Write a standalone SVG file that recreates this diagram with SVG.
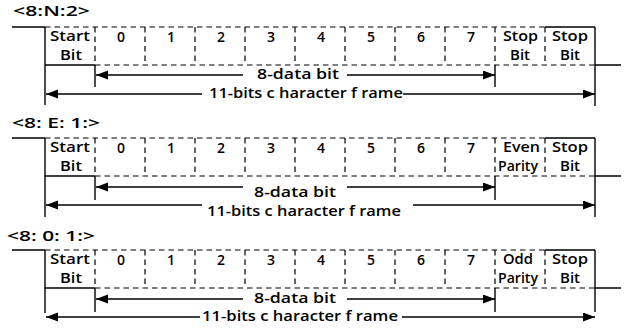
<svg xmlns="http://www.w3.org/2000/svg" width="629" height="329" viewBox="0 0 629 329">
<defs>
<marker id="ah" markerUnits="userSpaceOnUse" markerWidth="12" markerHeight="10" refX="12" refY="4.5" orient="auto"><path d="M0,0 L12,4.5 L0,9 z" fill="#000"/></marker>
</defs>
<style>
.s{stroke:#000;stroke-width:1.4;fill:none}
.d{stroke:#000;stroke-width:1.2;fill:none;stroke-dasharray:5.5 4}
.a{stroke:#000;stroke-width:1.4;fill:none;marker-end:url(#ah)}
text{font-family:"Open Sans","Noto Sans","DejaVu Sans",sans-serif;font-weight:600;font-size:13.5px;fill:#000}
.c{text-anchor:middle}
.n{font-size:14px}
.t{font-weight:600;font-size:14px}
</style>
<rect width="629" height="329" fill="#fff"/>

<g id="frame1">
<text class="t" x="13" y="16" textLength="77" lengthAdjust="spacingAndGlyphs">&lt;8:N:2&gt;</text>
<g id="cells1">
<path class="s" d="M12,27 H45 M45,27 V105 M45,65 H95 M95,65 V87 M495,65 V87 M545,27 H595 M595,27 V106 M595,65 H621"/>
<path class="d" d="M45,27 H545 M95,65 H595 M95,27 V65 M145,27 V65 M195,27 V65 M245,27 V65 M295,27 V65 M345,27 V65 M395,27 V65 M445,27 V65 M495,27 V65 M545,27 V65"/>
<text x="50" y="41" textLength="40" lengthAdjust="spacingAndGlyphs">Start</text>
<text x="60" y="60" textLength="22" lengthAdjust="spacingAndGlyphs">Bit</text>
<text class="c n" x="121" y="42">0</text><text class="c n" x="171" y="42">1</text><text class="c n" x="221" y="42">2</text><text class="c n" x="271" y="42">3</text><text class="c n" x="321" y="42">4</text><text class="c n" x="371" y="42">5</text><text class="c n" x="421" y="42">6</text><text class="c n" x="471" y="42">7</text>
<text x="503" y="41" textLength="35" lengthAdjust="spacingAndGlyphs">Stop</text>
<text x="510" y="60" textLength="20" lengthAdjust="spacingAndGlyphs">Bit</text>
<text x="552" y="41" textLength="36" lengthAdjust="spacingAndGlyphs">Stop</text>
<text x="560" y="60" textLength="20" lengthAdjust="spacingAndGlyphs">Bit</text>
</g>
<g id="conn1">
<line class="a" x1="243" y1="75" x2="96" y2="75"/>
<line class="a" x1="347" y1="75" x2="495" y2="75"/>
<text x="257" y="79" textLength="82" lengthAdjust="spacingAndGlyphs">8-data bit</text>
<line class="a" x1="202" y1="94" x2="46" y2="94"/>
<line class="a" x1="403" y1="94" x2="595" y2="94"/>
<text x="209" y="98" textLength="194" lengthAdjust="spacingAndGlyphs">11-bits c haracter f rame</text>
</g>
</g>

<g id="frame2">
<text class="t" x="12" y="128" textLength="88" lengthAdjust="spacingAndGlyphs">&lt;8: E: 1:&gt;</text>
<g id="cells2">
<path class="s" d="M12,138 H45 M45,138 V217 M45,176 H95 M95,176 V200 M495,176 V200 M545,138 H595 M595,138 V217 M595,176 H621"/>
<path class="d" d="M45,138 H545 M95,176 H595 M95,138 V176 M145,138 V176 M195,138 V176 M245,138 V176 M295,138 V176 M345,138 V176 M395,138 V176 M445,138 V176 M495,138 V176 M545,138 V176"/>
<text x="50" y="152" textLength="40" lengthAdjust="spacingAndGlyphs">Start</text>
<text x="60" y="171" textLength="22" lengthAdjust="spacingAndGlyphs">Bit</text>
<text class="c n" x="121" y="153">0</text><text class="c n" x="171" y="153">1</text><text class="c n" x="221" y="153">2</text><text class="c n" x="271" y="153">3</text><text class="c n" x="321" y="153">4</text><text class="c n" x="371" y="153">5</text><text class="c n" x="421" y="153">6</text><text class="c n" x="471" y="153">7</text>
<text x="503" y="152" textLength="37" lengthAdjust="spacingAndGlyphs">Even</text>
<text x="498" y="171" textLength="40" lengthAdjust="spacingAndGlyphs">Parity</text>
<text x="552" y="152" textLength="36" lengthAdjust="spacingAndGlyphs">Stop</text>
<text x="560" y="171" textLength="20" lengthAdjust="spacingAndGlyphs">Bit</text>
</g>
<g id="conn2">
<line class="a" x1="243" y1="187" x2="96" y2="187"/>
<line class="a" x1="347" y1="187" x2="495" y2="187"/>
<text x="254" y="197" textLength="82" lengthAdjust="spacingAndGlyphs">8-data bit</text>
<line class="a" x1="202" y1="205" x2="46" y2="205"/>
<line class="a" x1="413" y1="205" x2="595" y2="205"/>
<text x="207" y="216" textLength="194" lengthAdjust="spacingAndGlyphs">11-bits c haracter f rame</text>
</g>
</g>

<g id="frame3">
<text class="t" x="7" y="241" textLength="88" lengthAdjust="spacingAndGlyphs">&lt;8: 0: 1:&gt;</text>
<g id="cells3">
<path class="s" d="M12,250 H45 M45,250 V313 M45,288 H95 M95,288 V312 M495,288 V312 M545,250 H595 M595,250 V312 M595,288 H621"/>
<path class="d" d="M45,250 H545 M95,288 H595 M95,250 V288 M145,250 V288 M195,250 V288 M245,250 V288 M295,250 V288 M345,250 V288 M395,250 V288 M445,250 V288 M495,250 V288 M545,250 V288"/>
<text x="50" y="264" textLength="40" lengthAdjust="spacingAndGlyphs">Start</text>
<text x="60" y="283" textLength="22" lengthAdjust="spacingAndGlyphs">Bit</text>
<text class="c n" x="121" y="265">0</text><text class="c n" x="171" y="265">1</text><text class="c n" x="221" y="265">2</text><text class="c n" x="271" y="265">3</text><text class="c n" x="321" y="265">4</text><text class="c n" x="371" y="265">5</text><text class="c n" x="421" y="265">6</text><text class="c n" x="471" y="265">7</text>
<text x="503" y="264" textLength="30" lengthAdjust="spacingAndGlyphs">Odd</text>
<text x="498" y="283" textLength="40" lengthAdjust="spacingAndGlyphs">Parity</text>
<text x="552" y="264" textLength="36" lengthAdjust="spacingAndGlyphs">Stop</text>
<text x="560" y="283" textLength="20" lengthAdjust="spacingAndGlyphs">Bit</text>
</g>
<g id="conn3">
<line class="a" x1="243" y1="299" x2="96" y2="299"/>
<line class="a" x1="347" y1="299" x2="495" y2="299"/>
<text x="254" y="303" textLength="82" lengthAdjust="spacingAndGlyphs">8-data bit</text>
<line class="a" x1="200" y1="317" x2="46" y2="317"/>
<line class="a" x1="402" y1="317" x2="595" y2="317"/>
<text x="202" y="321" textLength="196" lengthAdjust="spacingAndGlyphs">11-bits c haracter f rame</text>
</g>
</g>
</svg>
